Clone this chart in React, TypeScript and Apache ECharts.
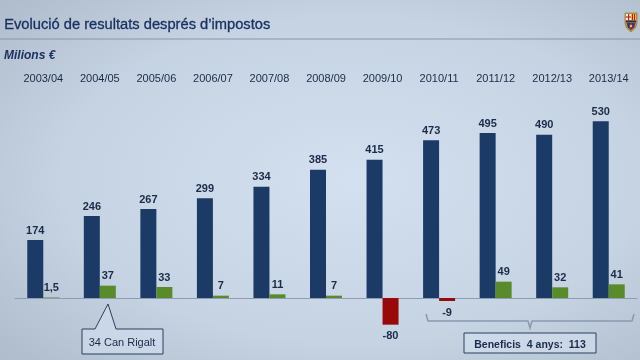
import React, { useEffect, useRef } from "react";
import * as echarts from "echarts";

const categories = ["2003/04", "2004/05", "2005/06", "2006/07", "2007/08", "2008/09", "2009/10", "2010/11", "2011/12", "2012/13", "2013/14"];
const revenues = [174, 246, 267, 299, 334, 385, 415, 473, 495, 490, 530];
const results = [1.5, 37, 33, 7, 11, 7, -80, -9, 49, 32, 41];

const BLUE = "#1b3a66";
const GREEN = "#5a8b2a";
const RED = "#980a0a";
const TEXT = "#1b2b48";
const FONT = "'Liberation Sans', Arial, sans-serif";

export default function App() {
  const ref = useRef<HTMLDivElement>(null);
  useEffect(() => {
    if (!ref.current) return;
    const chart = echarts.init(ref.current, null, { renderer: "svg" });
    const fmt = (p: any) => String(p.value).replace(".", ",");
    chart.setOption({
      animation: false,
      backgroundColor: new echarts.graphic.RadialGradient(0.55, 0.5, 0.75, [
        { offset: 0, color: "#d3e0f0" },
        { offset: 0.6, color: "#c6d3e3" },
        { offset: 1, color: "#aebbcb" },
      ]),
      textStyle: { fontFamily: FONT },
      grid: { left: 15, right: 3, top: 114.67, bottom: 12 },
      xAxis: [
        {
          type: "category",
          data: categories,
          axisLabel: { show: false },
          axisLine: { lineStyle: { color: "#8e9db2", width: 1 } },
          axisTick: { length: 4, lineStyle: { color: "#8e9db2" } },
        },
        {
          type: "category",
          data: categories,
          position: "top",
          axisLine: { show: false },
          axisTick: { show: false },
          axisLabel: { margin: 31, fontSize: 11, color: TEXT, fontFamily: FONT },
        },
      ],
      yAxis: { type: "value", min: -150, max: 550, show: false, splitLine: { show: false } },
      series: [
        {
          type: "bar",
          data: revenues,
          barWidth: 16,
          barGap: "0%",
          itemStyle: { color: BLUE },
          label: { show: true, position: "top", distance: 5, fontSize: 11, fontWeight: "bold", color: TEXT, fontFamily: FONT },
        },
        {
          type: "bar",
          data: results.map((v) => ({
            value: v,
            itemStyle: { color: v < 0 ? RED : GREEN },
            label: { position: v < 0 ? "bottom" : "top" },
          })),
          barWidth: 16,
          barGap: "0%",
          label: { show: true, distance: 5, fontSize: 11, fontWeight: "bold", color: TEXT, fontFamily: FONT, formatter: fmt },
        },
      ],
      graphic: [
        { type: "text", left: 4, top: 16, style: { text: "Evolució de resultats després d’impostos", fontSize: 14.7, fill: "#1a3260", fontFamily: FONT, stroke: "#1a3260", lineWidth: 0.3 } },
        { type: "line", shape: { x1: 0, y1: 39, x2: 640, y2: 39 }, style: { stroke: "#8796ab", lineWidth: 1 } },
        { type: "text", left: 4, top: 49, style: { text: "Milions €", fontSize: 12, fontWeight: "bold", fontStyle: "italic", fill: "#1a3260", fontFamily: FONT } },
        // callout
        {
          type: "polygon",
          shape: { points: [[82, 329], [95, 329], [108, 304], [116, 329], [163, 329], [163, 354], [82, 354]] },
          style: { fill: "rgba(214,226,242,0.55)", stroke: "#2b3f60", lineWidth: 1 },
        },
        { type: "text", x: 122, y: 342, style: { text: "34 Can Rigalt", fontSize: 11, fill: TEXT, fontFamily: FONT, align: "center", verticalAlign: "middle" } },
        // bracket
        {
          type: "polyline",
          shape: { points: [[426, 314], [428, 321], [528, 321], [530, 328], [532, 321], [632, 321], [634, 314]] },
          style: { stroke: "#8a99ae", lineWidth: 1.5, fill: null },
        },
        { type: "rect", shape: { x: 464, y: 333, width: 132, height: 20 }, style: { fill: "rgba(214,226,242,0.55)", stroke: "#2b3f60", lineWidth: 1 } },
        { type: "text", x: 530, y: 343.5, style: { text: "Beneficis  4 anys:  113", fontSize: 10.5, fontWeight: "bold", fill: TEXT, fontFamily: FONT, align: "center", verticalAlign: "middle" } },
        // crest
        {
          type: "group",
          children: [
            { type: "polygon", shape: { points: [[625, 13], [637, 13], [637, 23], [635.5, 28], [631, 32], [626.5, 28], [625, 23]] }, style: { fill: "#c9a227", stroke: "#8a6a20", lineWidth: 0.6 } },
            { type: "rect", shape: { x: 626, y: 14, width: 5, height: 6 }, style: { fill: "#f4f4f4" } },
            { type: "rect", shape: { x: 628, y: 14, width: 1.2, height: 6 }, style: { fill: "#d0102a" } },
            { type: "rect", shape: { x: 626, y: 16.4, width: 5, height: 1.2 }, style: { fill: "#d0102a" } },
            { type: "rect", shape: { x: 631, y: 14, width: 5, height: 6 }, style: { fill: "#e8c020" } },
            { type: "rect", shape: { x: 632, y: 14, width: 1, height: 6 }, style: { fill: "#d0102a" } },
            { type: "rect", shape: { x: 634, y: 14, width: 1, height: 6 }, style: { fill: "#d0102a" } },
            { type: "rect", shape: { x: 626, y: 20.5, width: 10, height: 2 }, style: { fill: "#2a2a60" } },
            { type: "polygon", shape: { points: [[626.5, 23], [635.5, 23], [634.5, 27], [631, 30.5], [627.5, 27]] }, style: { fill: "#7a2a7a" } },
            { type: "rect", shape: { x: 628, y: 23, width: 1.6, height: 5 }, style: { fill: "#1b3a8a" } },
            { type: "rect", shape: { x: 632, y: 23, width: 1.6, height: 5 }, style: { fill: "#1b3a8a" } },
            { type: "circle", shape: { cx: 631, cy: 26, r: 1.3 }, style: { fill: "#e8c020" } },
          ],
        },
      ],
    });
    return () => chart.dispose();
  }, []);
  return <div ref={ref} style={{ position: "fixed", left: 0, top: 0, width: 640, height: 360 }} />;
}
